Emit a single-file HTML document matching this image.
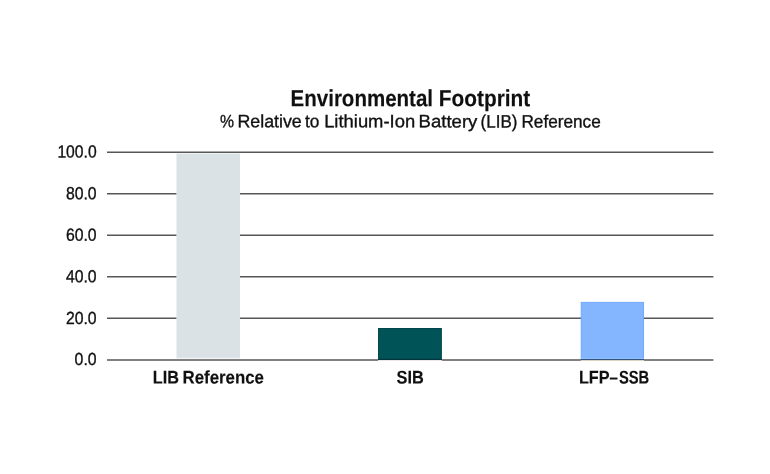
<!DOCTYPE html>
<html lang="en">
<head>
<meta charset="utf-8">
<title>Environmental Footprint</title>
<style>
  html, body { margin: 0; padding: 0; background: #ffffff; }
  body { width: 770px; height: 474px; overflow: hidden; }
  svg { display: block; }
  text { font-family: "Liberation Sans", sans-serif; fill: #101010; }
  .title { font-weight: bold; font-size: 23.4px; stroke: #101010; stroke-width: 0.15px; }
  .sub { font-size: 17.8px; stroke: #101010; stroke-width: 0.35px; }
  .tick { font-size: 17.6px; stroke: #101010; stroke-width: 0.35px; }
  .cat { font-weight: bold; font-size: 18.3px; stroke: #101010; stroke-width: 0.15px; }
  .grid { stroke: #575757; stroke-width: 1.45; }
</style>
</head>
<body>
<svg width="770" height="474" viewBox="0 0 770 474">
  <rect x="0" y="0" width="770" height="474" fill="#ffffff"/>
  <g class="title">
    <text y="106.25" transform="rotate(0.05 410.40 106.25)"><tspan x="290.60" textLength="142.40" lengthAdjust="spacingAndGlyphs">Environmental</tspan> <tspan x="438.80" textLength="91.40" lengthAdjust="spacingAndGlyphs">Footprint</tspan></text>
  </g>
  <g class="sub">
    <text y="127.35" transform="rotate(0.05 410.40 127.35)"><tspan x="220.00" textLength="14.00" lengthAdjust="spacingAndGlyphs">%</tspan> <tspan x="237.40" textLength="64.40" lengthAdjust="spacingAndGlyphs">Relative</tspan> <tspan x="305.00" textLength="14.40" lengthAdjust="spacingAndGlyphs">to</tspan> <tspan x="324.15" textLength="91.00" lengthAdjust="spacingAndGlyphs">Lithium-Ion</tspan> <tspan x="418.60" textLength="58.80" lengthAdjust="spacingAndGlyphs">Battery</tspan> <tspan x="480.60" textLength="36.80" lengthAdjust="spacingAndGlyphs">(LIB)</tspan> <tspan x="521.40" textLength="79.40" lengthAdjust="spacingAndGlyphs">Reference</tspan></text>
  </g>
  <g class="grid">
    <line x1="107" y1="152.2" x2="713.4" y2="152.2"/>
    <line x1="107" y1="193.75" x2="713.4" y2="193.75"/>
    <line x1="107" y1="235.2" x2="713.4" y2="235.2"/>
    <line x1="107" y1="276.7" x2="713.4" y2="276.7"/>
    <line x1="107" y1="318.3" x2="713.4" y2="318.3"/>
    <line x1="107" y1="360.0" x2="713.4" y2="360.0"/>
  </g>
  <rect x="176.6" y="153" width="63.4" height="206" fill="#eff4f7"/>
  <rect x="176.6" y="154" width="63.4" height="203.8" fill="#dbe2e6"/>
  <rect x="378.55" y="328.5" width="62.8" height="30.5" fill="#005458" stroke="#00454c" stroke-width="1"/>
  <rect x="378.05" y="359" width="63.8" height="1" fill="#00353c"/>
  <rect x="378.05" y="360" width="63.8" height="1" fill="#efe5e5"/>
  <rect x="581.25" y="302.4" width="62.3" height="56.4" fill="#84b6ff" stroke="#70a8ff" stroke-width="1"/>
  <rect x="580.75" y="358" width="63.3" height="1" fill="#8cc2ff"/>
  <rect x="580.75" y="359" width="63.3" height="1" fill="#34527c"/>
  <rect x="580.75" y="360" width="63.3" height="1" fill="#ddd2c2"/>
  <g class="tick">
    <text transform="rotate(0.05 77.00 157.50)" x="57.40" y="157.50" textLength="39.20" lengthAdjust="spacingAndGlyphs">100.0</text>
    <text transform="rotate(0.05 81.25 199.25)" x="65.90" y="199.25" textLength="30.70" lengthAdjust="spacingAndGlyphs">80.0</text>
    <text transform="rotate(0.05 81.25 240.80)" x="65.90" y="240.80" textLength="30.70" lengthAdjust="spacingAndGlyphs">60.0</text>
    <text transform="rotate(0.05 81.25 282.25)" x="65.90" y="282.25" textLength="30.70" lengthAdjust="spacingAndGlyphs">40.0</text>
    <text transform="rotate(0.05 81.25 323.90)" x="65.90" y="323.90" textLength="30.70" lengthAdjust="spacingAndGlyphs">20.0</text>
    <text transform="rotate(0.05 85.60 365.10)" x="74.60" y="365.10" textLength="22.00" lengthAdjust="spacingAndGlyphs">0.0</text>
  </g>
  <g class="cat">
    <text y="383.5" transform="rotate(0.05 208.40 383.5)"><tspan x="152.80" textLength="26.20" lengthAdjust="spacingAndGlyphs">LIB</tspan> <tspan x="182.50" textLength="81.50" lengthAdjust="spacingAndGlyphs">Reference</tspan></text>
    <text transform="rotate(0.05 410.15 383.5)" x="396.55" y="383.5" textLength="27.20" lengthAdjust="spacingAndGlyphs">SIB</text>
    <text y="383.5" transform="rotate(0.05 614.05 383.5)"><tspan x="578.90" textLength="30.60" lengthAdjust="spacingAndGlyphs">LFP</tspan><tspan x="609.60" textLength="8.40" lengthAdjust="spacingAndGlyphs">–</tspan><tspan x="618.90" textLength="30.30" lengthAdjust="spacingAndGlyphs">SSB</tspan></text>
  </g>
</svg>
</body>
</html>
